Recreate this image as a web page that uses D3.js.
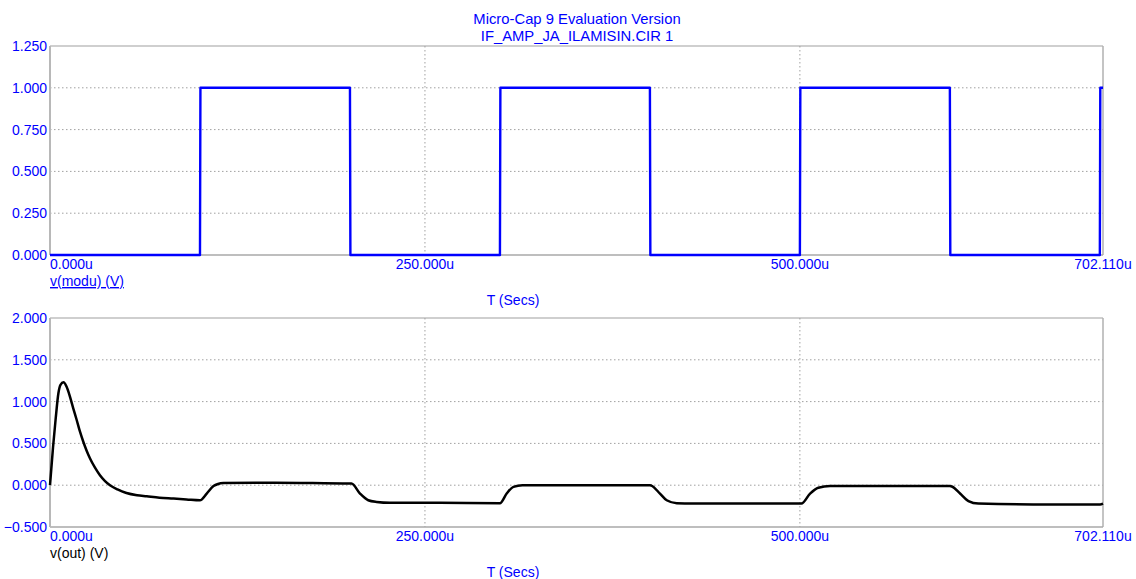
<!DOCTYPE html>
<html>
<head>
<meta charset="utf-8">
<script src="https://cdn.jsdelivr.net/npm/d3@7"></script>
<style>
html,body{margin:0;padding:0;background:#fff;}
svg{display:block;font-family:Arial,"Liberation Sans",sans-serif;}
</style>
</head>
<body>
<svg id="chart" width="1136" height="579"></svg>
<script>
// ---- data ----
const titleLines = ["Micro-Cap 9 Evaluation Version", "IF_AMP_JA_ILAMISIN.CIR 1"];
const tMax = 702.11;
const xTickValues = [0, 250, 500, 702.11];
const xTickLabels = ["0.000u", "250.000u", "500.000u", "702.110u"];

// top: v(modu)
const modT = [0, 100, 100.3, 200, 200.3, 300, 300.3, 400, 400.3, 500, 500.3, 600, 600.3, 700, 700.3, 702.11];
const modV = [0, 0, 1, 1, 0, 0, 1, 1, 0, 0, 1, 1, 0, 0, 1, 1];
const topYTicks = [0, 0.25, 0.5, 0.75, 1.0, 1.25];

// bottom: v(out)
const outT = [0, 2, 3.7, 5.6, 7, 9, 11, 13.3, 15.5, 17.8, 20, 22.2, 24.5, 26.7, 30, 33.3, 36.7, 40, 45, 51, 58, 64.5, 73, 82, 91, 100,
  104.5, 109, 112, 115.6, 150, 200, 201, 206.7, 212.2, 217.8, 226.7, 260, 300,
  304.5, 309, 315, 350, 400, 401, 406.7, 411.2, 417.9, 428.7, 500,
  501, 506.8, 512.3, 520.1, 566.8, 600, 601.3, 606.8, 612.4, 619, 655.5, 700.2, 702.11];
const outV = [0, 0.45, 0.78, 1.1, 1.2, 1.23, 1.18, 1.06, 0.92, 0.78, 0.64, 0.52, 0.41, 0.32, 0.21, 0.12, 0.05, 0.0, -0.05, -0.093, -0.12, -0.133, -0.15, -0.16, -0.17, -0.18,
  -0.1, -0.01, 0.015, 0.025, 0.03, 0.02, 0.02, -0.1, -0.18, -0.2, -0.21, -0.21, -0.215,
  -0.1, -0.02, 0.0, 0.0, 0.0, -0.005, -0.1, -0.18, -0.215, -0.22, -0.22,
  -0.22, -0.1, -0.03, -0.01, -0.01, -0.01, -0.015, -0.1, -0.19, -0.22, -0.23, -0.23, -0.22];
const botYTicks = [-0.5, 0, 0.5, 1.0, 1.5, 2.0];

// ---- layout ----
const svg = d3.select("#chart");
const L = 50, R = 1103;
const blue = "#0000ff";
const gridCol = "#a0a0a0";

svg.selectAll("text.title").data(titleLines).join("text")
  .attr("x", 577).attr("y", (d, i) => 24 + i * 17)
  .attr("text-anchor", "middle").attr("font-size", 14.8).attr("fill", blue).text(d => d);

const x = d3.scaleLinear().domain([0, tMax]).range([L, R]);

function panel(cfg) {
  const y = d3.scaleLinear().domain(cfg.domain).range([cfg.bottom, cfg.top]);
  const g = svg.append("g");
  g.selectAll("line.hg").data(cfg.yTicks.filter(v => v !== cfg.domain[0] && v !== cfg.domain[1])).join("line")
    .attr("x1", L).attr("x2", R).attr("y1", d => y(d)).attr("y2", d => y(d))
    .attr("stroke", gridCol).attr("stroke-width", 1).attr("stroke-dasharray", "1.5,2.5");
  g.selectAll("line.vg").data([250, 500]).join("line")
    .attr("x1", d => x(d)).attr("x2", d => x(d)).attr("y1", cfg.top).attr("y2", cfg.bottom)
    .attr("stroke", gridCol).attr("stroke-width", 1).attr("stroke-dasharray", "1.5,2.5");
  g.append("line").attr("x1", L).attr("x2", R).attr("y1", cfg.top).attr("y2", cfg.top).attr("stroke", "#a0a0a0").attr("stroke-width", 1.2);
  g.append("line").attr("x1", R).attr("x2", R).attr("y1", cfg.top).attr("y2", cfg.bottom).attr("stroke", "#b0b0b0").attr("stroke-width", 1.5);
  g.append("line").attr("x1", L).attr("x2", R).attr("y1", cfg.bottom).attr("y2", cfg.bottom).attr("stroke", "#a8a8a8").attr("stroke-width", 1.5);
  g.append("line").attr("x1", L).attr("x2", L).attr("y1", cfg.top).attr("y2", cfg.bottom).attr("stroke", "#b8b8b8").attr("stroke-width", 2);
  g.selectAll("text.yt").data(cfg.yTicks).join("text")
    .attr("x", 47).attr("y", d => y(d) + 5)
    .attr("text-anchor", "end").attr("font-size", 14).attr("fill", blue)
    .text(d => d3.format(".3f")(d));
  g.selectAll("text.xt").data(xTickValues).join("text")
    .attr("x", d => x(d)).attr("y", cfg.bottom + 14)
    .attr("text-anchor", (d, i) => i === 0 ? "start" : "middle")
    .attr("font-size", 14).attr("fill", blue)
    .text((d, i) => xTickLabels[i]);
  g.append("text").attr("x", L).attr("y", cfg.bottom + 31)
    .attr("font-size", 14).attr("fill", cfg.labelColor)
    .attr("text-decoration", cfg.underline ? "underline" : null)
    .text(cfg.label);
  g.append("text").attr("x", 513).attr("y", cfg.bottom + 50)
    .attr("text-anchor", "middle").attr("font-size", 14).attr("fill", blue).text("T (Secs)");
  const data = cfg.t.map((t, i) => [t, cfg.v[i]]);
  const line = d3.line().x(d => x(d[0])).y(d => y(d[1])).curve(cfg.curve);
  g.append("path").datum(data).attr("d", line)
    .attr("fill", "none").attr("stroke", cfg.color).attr("stroke-width", cfg.width)
    .attr("stroke-linejoin", "round");
}

panel({top: 46, bottom: 255, domain: [0, 1.25], yTicks: topYTicks, t: modT, v: modV,
  color: blue, width: 2.4, curve: d3.curveLinear, label: "v(modu) (V)", labelColor: blue, underline: true});
panel({top: 318, bottom: 527, domain: [-0.5, 2.0], yTicks: botYTicks, t: outT, v: outV,
  color: "#000", width: 2.5, curve: d3.curveMonotoneX, label: "v(out) (V)", labelColor: "#000", underline: false});
</script>
</body>
</html>
